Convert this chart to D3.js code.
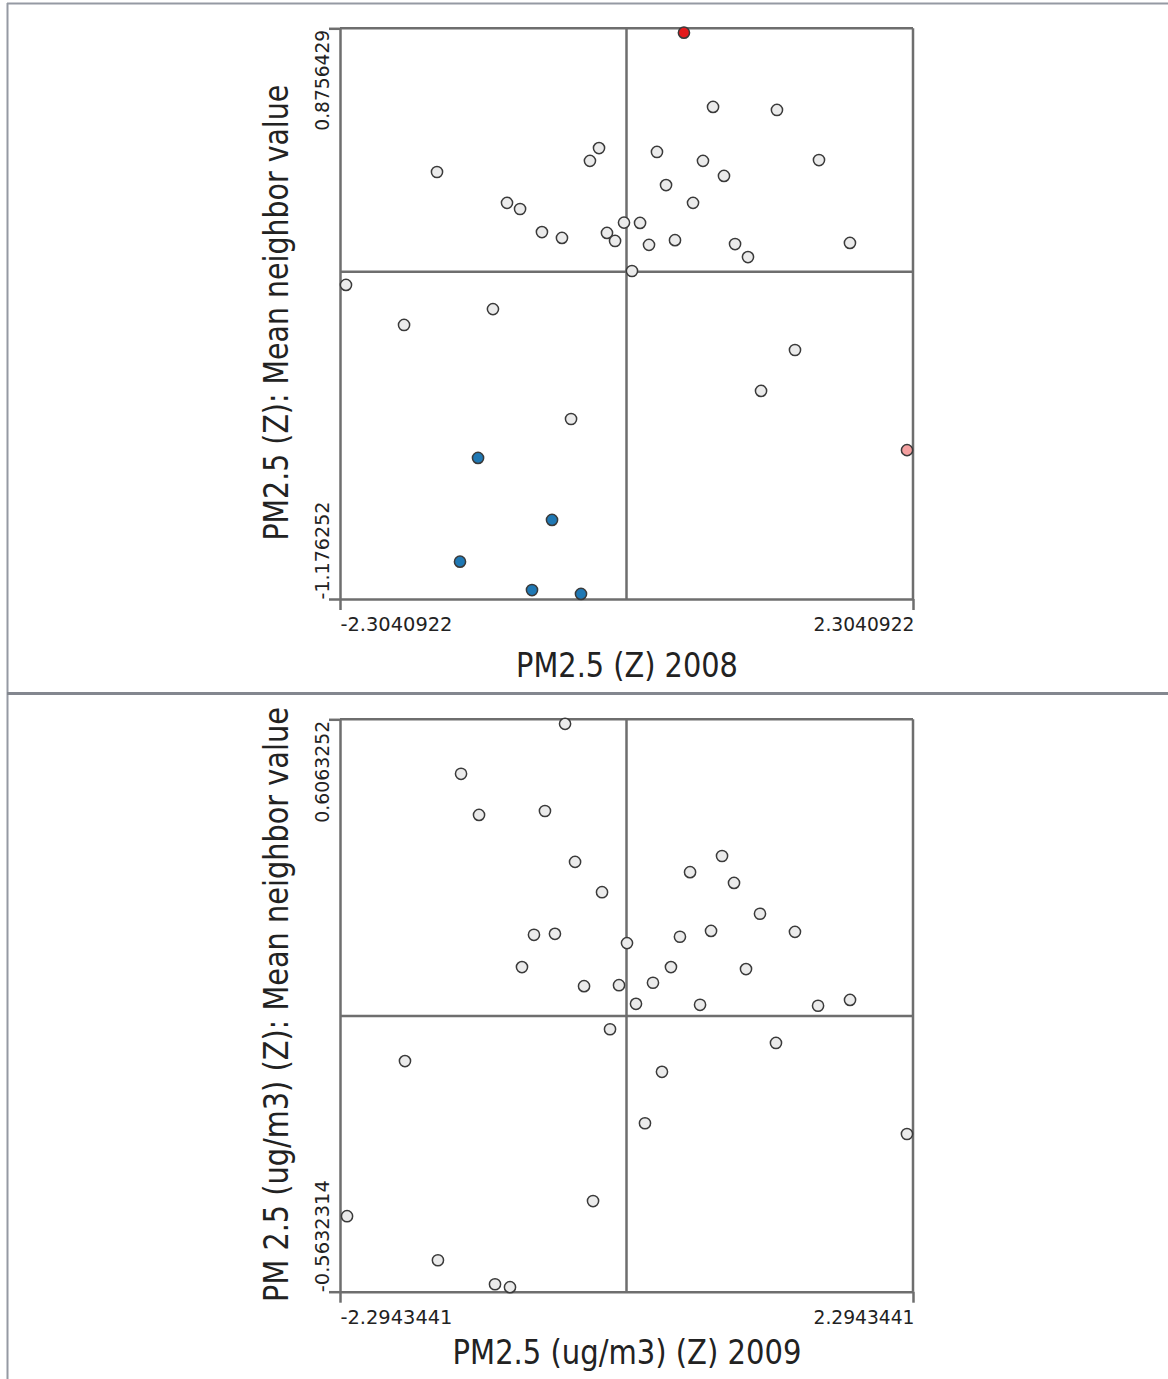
<!DOCTYPE html>
<html><head><meta charset="utf-8">
<script src="https://cdn.jsdelivr.net/npm/d3@7"></script>
<style>html,body{margin:0;padding:0;background:#fff;} svg{display:block}</style>
</head><body>
<script>
// ---------- Panel 1: PM2.5 (Z) 2008 ----------
const x2008 = [0.462, 0.696, 1.210, -0.221, -0.294, 0.245, 0.615, 1.548, -1.524, 0.784,
               0.318, -0.961, -0.856, 0.535, -0.020, 0.109, -0.680, -0.519, -0.157, -0.092,
               0.181, 0.390, 0.873, 1.797, 0.977, 0.044, -2.256, -1.074, -1.789, 1.355,
               1.082, -0.446, 2.256, -1.194, -0.599, -1.339, -0.760, -0.366];
const y2008 = [0.860, 0.593, 0.582, 0.445, 0.399, 0.431, 0.399, 0.402, 0.359, 0.345,
               0.312, 0.248, 0.226, 0.248, 0.177, 0.176, 0.143, 0.122, 0.140, 0.111,
               0.097, 0.114, 0.100, 0.104, 0.053, 0.003, -0.047, -0.134, -0.191, -0.281,
               -0.428, -0.529, -0.641, -0.669, -0.892, -1.042, -1.144, -1.158];
const cluster2008 = ["HH","ns","ns","ns","ns","ns","ns","ns","ns","ns",
                     "ns","ns","ns","ns","ns","ns","ns","ns","ns","ns",
                     "ns","ns","ns","ns","ns","ns","ns","ns","ns","ns",
                     "ns","ns","HL","LL","LL","LL","LL","LL"];
const xTicks2008 = ["-2.3040922", "2.3040922"];
const yTicks2008 = ["-1.176252", "0.8756429"];
const xTitle2008 = "PM2.5 (Z) 2008";
const yTitle2008 = "PM2.5 (Z): Mean neighbor value";

// ---------- Panel 2: PM2.5 (ug/m3) (Z) 2009 ----------
const x2009 = [-0.492, -1.325, -1.181, -0.653, -0.412, -0.196, 0.765, 0.509, 0.861, 1.069,
               -0.741, -0.573, 0.004, 0.428, 0.677, 1.349, -0.837, 0.356, 0.957, -0.340,
               -0.060, 0.212, 0.076, 0.589, 1.534, 1.790, -0.132, -1.774, 1.197, 0.284,
               0.148, 2.246, -0.268, -2.238, -1.510, -1.053, -0.933];
const y2009 = [0.597, 0.495, 0.411, 0.419, 0.315, 0.253, 0.327, 0.294, 0.272, 0.209,
               0.166, 0.168, 0.149, 0.162, 0.174, 0.172, 0.100, 0.100, 0.096, 0.061,
               0.063, 0.068, 0.025, 0.023, 0.021, 0.033, -0.027, -0.092, -0.055, -0.114,
               -0.219, -0.241, -0.378, -0.409, -0.499, -0.548, -0.554];
const cluster2009 = x2009.map(() => "ns");
const xTicks2009 = ["-2.2943441", "2.2943441"];
const yTicks2009 = ["-0.5632314", "0.6063252"];
const xTitle2009 = "PM2.5 (ug/m3) (Z) 2009";
const yTitle2009 = "PM 2.5 (ug/m3) (Z): Mean neighbor value";

const clusterColors = {HH: "#e31a1c", LL: "#1f78b4", HL: "#f4a0a0", LH: "#a6cee3", ns: "#ebebeb"};

const W = 1168, H = 1379;
const PL = 340, PR = 913;
const lineColor = "#6e6e6e";
const textColor = "#222";
const font = "'DejaVu Sans Condensed', 'DejaVu Sans', Verdana, sans-serif";

const svg = d3.select("body").append("svg").attr("width", W).attr("height", H)
  .style("font-family", font);

// outer window frame
svg.append("line").attr("x1", 7.5).attr("x2", 7.5).attr("y1", 3).attr("y2", H)
  .attr("stroke", "#959aa3").attr("stroke-width", 2);
svg.append("line").attr("x1", 7).attr("x2", W).attr("y1", 3.5).attr("y2", 3.5)
  .attr("stroke", "#959aa3").attr("stroke-width", 2);
svg.append("line").attr("x1", 7).attr("x2", W).attr("y1", 693.5).attr("y2", 693.5)
  .attr("stroke", "#83878f").attr("stroke-width", 3);

// fit a text to a target length by scaling along its own direction
function fitText(textSel, baseTransform, target) {
  const natural = textSel.node().getComputedTextLength();
  const k = natural > 0 ? target / natural : 1;
  textSel.attr("transform", `${baseTransform} scale(${k},1)`);
}

function drawPanel(cfg) {
  const x = d3.scaleLinear().domain(cfg.xDomain).range([PL, PR]);
  const y = d3.scaleLinear().domain(cfg.yDomain).range([cfg.bottom, cfg.top]);
  const g = svg.append("g");
  const sw = 2.5;

  // frame top and right
  g.append("line").attr("x1", PL).attr("x2", PR).attr("y1", cfg.top).attr("y2", cfg.top)
    .attr("stroke", lineColor).attr("stroke-width", sw);
  g.append("line").attr("x1", PR).attr("x2", PR).attr("y1", cfg.top).attr("y2", cfg.bottom)
    .attr("stroke", lineColor).attr("stroke-width", sw);
  // zero lines
  g.append("line").attr("x1", x(0)).attr("x2", x(0)).attr("y1", cfg.top).attr("y2", cfg.bottom)
    .attr("stroke", lineColor).attr("stroke-width", sw);
  g.append("line").attr("x1", PL).attr("x2", PR).attr("y1", y(0)).attr("y2", y(0))
    .attr("stroke", lineColor).attr("stroke-width", sw);

  // x axis
  const xa = g.append("g").attr("transform", `translate(0,${cfg.bottom})`)
    .attr("color", lineColor)
    .call(d3.axisBottom(x).tickValues(cfg.xDomain).tickSize(11).tickSizeOuter(0)
      .tickFormat((d, i) => cfg.xTicks[i]));
  xa.select(".domain").attr("stroke-width", sw);
  xa.selectAll(".tick line").attr("stroke-width", sw);
  xa.selectAll(".tick text").each(function(d, i) {
    const t = d3.select(this)
      .attr("fill", textColor).attr("font-size", 20).attr("font-family", font)
      .attr("x", 0).attr("y", 0).attr("dy", 0)
      .attr("text-anchor", i === 0 ? "start" : "end");
    fitText(t, `translate(${i === 0 ? 0 : 1},32)`, cfg.xTickLen[i]);
  });

  // y axis
  const ya = g.append("g").attr("transform", `translate(${PL},0)`)
    .attr("color", lineColor)
    .call(d3.axisLeft(y).tickValues(cfg.yDomain).tickSize(11).tickSizeOuter(0)
      .tickFormat((d, i) => cfg.yTicks[i]));
  ya.select(".domain").attr("stroke-width", sw);
  ya.selectAll(".tick line").attr("stroke-width", sw);
  ya.selectAll(".tick text").each(function(d, i) {
    const t = d3.select(this)
      .attr("fill", textColor).attr("font-size", 20).attr("font-family", font)
      .attr("x", 0).attr("y", 0).attr("dy", 0)
      .attr("text-anchor", i === 0 ? "start" : "end");
    fitText(t, `translate(-11,${i === 0 ? 0 : 1}) rotate(-90)`, cfg.yTickLen[i]);
  });

  // titles
  const xt = g.append("text").attr("x", 0).attr("y", 0)
    .attr("text-anchor", "middle").attr("font-size", 34).attr("fill", textColor)
    .text(cfg.xTitle);
  fitText(xt, `translate(${(PL + PR) / 2 + 0.5},${cfg.xTitleY})`, cfg.xTitleLen);
  const yt = g.append("text").attr("x", 0).attr("y", 0)
    .attr("text-anchor", "middle").attr("font-size", 34).attr("fill", textColor)
    .text(cfg.yTitle);
  fitText(yt, `translate(288,${(cfg.top + cfg.bottom) / 2 - 1}) rotate(-90)`, cfg.yTitleLen);

  // points
  const pts = cfg.xs.map((v, i) => ({x: v, y: cfg.ys[i], c: cfg.cl[i]}));
  g.append("g").selectAll("circle").data(pts).join("circle")
    .attr("cx", d => x(d.x)).attr("cy", d => y(d.y)).attr("r", 5.6)
    .attr("fill", d => clusterColors[d.c])
    .attr("stroke", "#3a3a3a").attr("stroke-width", 1.5);
}

drawPanel({
  xs: x2008, ys: y2008, cl: cluster2008,
  xDomain: [-2.3040922, 2.3040922], yDomain: [-1.176252, 0.8756429],
  xTicks: xTicks2008, yTicks: yTicks2008, xTickLen: [112, 101], yTickLen: [98, 101],
  top: 28.3, bottom: 599,
  xTitle: xTitle2008, yTitle: yTitle2008, xTitleY: 677, xTitleLen: 222, yTitleLen: 456
});
drawPanel({
  xs: x2009, ys: y2009, cl: cluster2009,
  xDomain: [-2.2943441, 2.2943441], yDomain: [-0.5632314, 0.6063252],
  xTicks: xTicks2009, yTicks: yTicks2009, xTickLen: [112, 101], yTickLen: [112, 102],
  top: 719.3, bottom: 1291.7,
  xTitle: xTitle2009, yTitle: yTitle2009, xTitleY: 1364, xTitleLen: 349, yTitleLen: 595
});
</script>
</body></html>
